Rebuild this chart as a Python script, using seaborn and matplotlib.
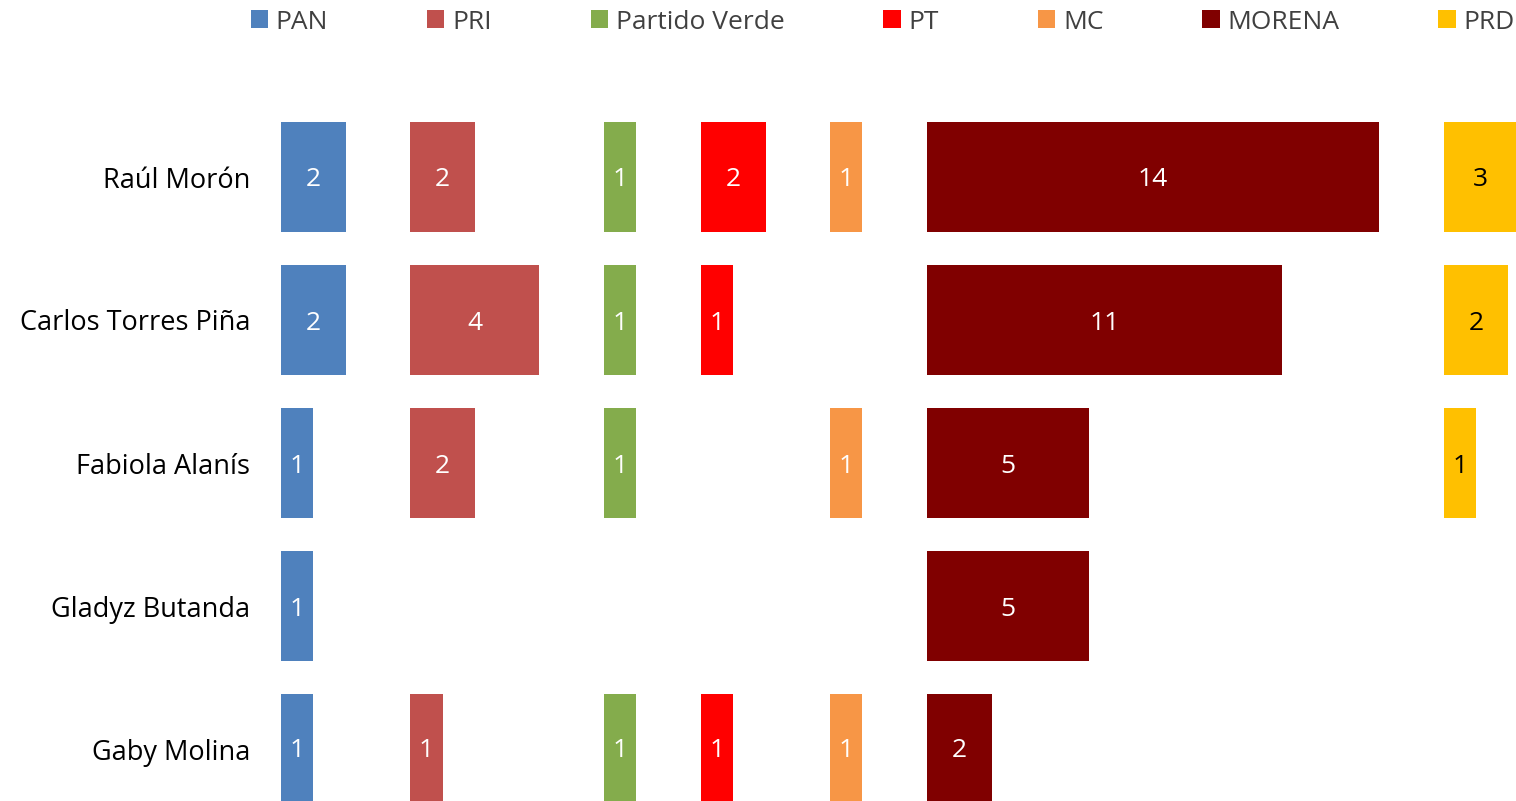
import matplotlib
matplotlib.use("Agg")

import matplotlib.pyplot as plt
import seaborn as sns


candidates = [
    "Raúl Morón",
    "Carlos Torres Piña",
    "Fabiola Alanís",
    "Gladyz Butanda",
    "Gaby Molina"
]

parties = ["PAN", "PRI", "Partido Verde", "PT", "MC", "MORENA", "PRD"]

pan = [2, 2, 1, 1, 1]
pri = [2, 4, 2, 0, 1]
verde = [1, 1, 1, 0, 1]
pt = [2, 1, 0, 0, 1]
mc = [1, 0, 1, 0, 1]
morena = [14, 11, 5, 5, 2]
prd = [3, 2, 1, 0, 0]

values = [pan, pri, verde, pt, mc, morena, prd]

colors = ["#4F81BD", "#C0504D", "#84AC4C", "#FF0000", "#F79646", "#800000", "#FFC000"]
label_colors = ["white", "white", "white", "white", "white", "white", "black"]


sns.set_theme(style="white")
plt.rcParams["font.family"] = ["Open Sans", "DejaVu Sans"]

fig = plt.figure(figsize=(15.16, 8.01), dpi=100)

# axes from x=281px to the right edge, rows centred at 177..749 px
ax = fig.add_axes([281 / 1516, 0, 1 - 281 / 1516, 695.5 / 801])

# every party gets its own lane: widest bar + 2 units
offset = 0

for party, vals, color, lcolor in zip(parties, values, colors, label_colors):

    sns.barplot(
        x=vals,
        y=candidates,
        orient="h",
        color=color,
        width=0.77,
        left=offset,
        label=party,
        ax=ax,
        linewidth=0,
        saturation=1
    )

    texts = ax.bar_label(
        ax.containers[-1],
        labels=[str(v) if v > 0 else "" for v in vals],
        label_type="center",
        color=lcolor,
        fontsize=19
    )

    for t in texts:
        t.set_va("center_baseline")

    offset += max(vals) + 2

ax.set_xlim(0, 1235 / 32.3)
ax.set_ylim(4 + 52 / 143, -0.5)

ax.set_xticks([])
ax.tick_params(axis="y", length=0, pad=22, labelsize=19.5, labelcolor="black")
ax.set_xlabel("")
ax.set_ylabel("")
sns.despine(ax=ax, left=True, bottom=True)

handles, labels = ax.get_legend_handles_labels()
if ax.get_legend() is not None:
    ax.get_legend().remove()

fig.legend(
    handles,
    labels,
    loc="upper left",
    bbox_to_anchor=(236 / 1516, 1.0 + 5 / 801),
    ncol=7,
    frameon=False,
    fontsize=19,
    handlelength=0.65,
    handleheight=0.65,
    handletextpad=0.3,
    columnspacing=3.75,
    borderpad=0.05,
    labelcolor="#404040"
)

fig.savefig("out.png", dpi=100)
